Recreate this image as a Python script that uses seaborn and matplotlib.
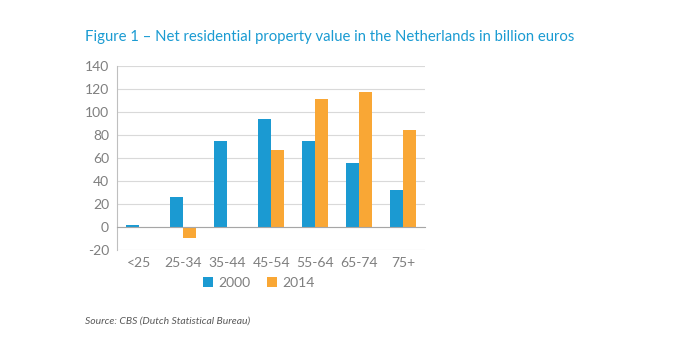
import numpy as np
import pandas as pd
import matplotlib
matplotlib.use("Agg")
import matplotlib.pyplot as plt
import seaborn as sns

age_groups = ["<25", "25-34", "35-44", "45-54", "55-64", "65-74", "75+"]
value_2000 = [2, 26, 75, 94, 75, 56, 32]
value_2014 = [0, -10, -1, 67, 111, 117, 84]
years = ["2000", "2014"]

df = pd.DataFrame({
    "age": age_groups * 2,
    "value": value_2000 + value_2014,
    "year": [years[0]] * len(age_groups) + [years[1]] * len(age_groups),
})

sns.set_style("white")
plt.rcParams["font.family"] = ["Lato", "DejaVu Sans"]
plt.rcParams["axes.unicode_minus"] = False

blue = "#1b9ad2"
orange = "#f9a735"
grey = "#7f7f7f"

fig = plt.figure(figsize=(6.74, 3.55), dpi=100)
ax = fig.add_axes([0.174, 0.296, 0.457, 0.518])

sns.barplot(data=df, x="age", y="value", hue="year", palette=[blue, orange],
            width=0.6, gap=0, saturation=1, ax=ax, legend=True)
for p in ax.patches:
    p.set_edgecolor("none")

ax.set_ylim(-20, 140)
ax.set_yticks(np.arange(-20, 141, 20))
ax.set_xlim(-0.5, len(age_groups) - 0.5)
ax.yaxis.grid(True, color="#d9d9d9", linewidth=0.8)
ax.set_axisbelow(True)
ax.set_xlabel("")
ax.set_ylabel("")

for s in ["top", "right"]:
    ax.spines[s].set_visible(False)
ax.spines["left"].set_color("#bfbfbf")
ax.spines["bottom"].set_position(("data", 0))
ax.spines["bottom"].set_color("#a6a6a6")

ax.set_xticks(np.arange(-0.5, len(age_groups), 1), minor=True)
ax.tick_params(axis="x", which="minor", length=4, color="#a6a6a6", direction="out")
ax.tick_params(axis="x", which="major", length=0, pad=22, labelsize=10, labelcolor=grey)
ax.tick_params(axis="y", length=0, pad=6, labelsize=10, labelcolor=grey)

leg = ax.legend(loc="center", bbox_to_anchor=(0.46, -0.18), ncol=2, frameon=False,
                fontsize=10, handlelength=0.7, handleheight=0.7, columnspacing=1.2,
                handletextpad=0.4, labelcolor=grey)

fig.text(0.126, 0.897, "Figure 1 \u2013 Net residential property value in the Netherlands in billion euros",
         color="#1a9bd2", fontsize=10.7, va="center", ha="left")
fig.text(0.126, 0.096, "Source: CBS (Dutch Statistical Bureau)", color="#595959",
         fontsize=7.5, style="italic", va="center", ha="left")

fig.savefig("out.png", dpi=100)
